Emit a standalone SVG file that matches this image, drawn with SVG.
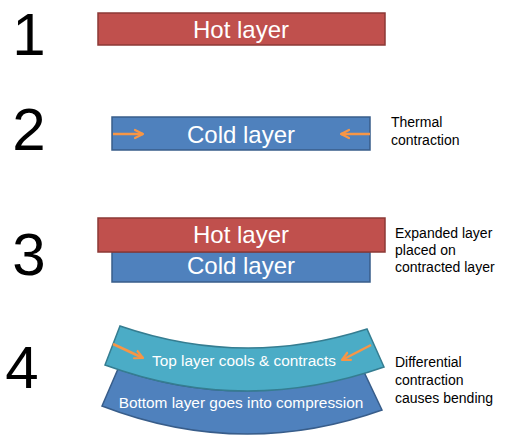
<svg xmlns="http://www.w3.org/2000/svg" width="507" height="442" viewBox="0 0 507 442">
<defs>
<style>
.num{font-family:"Liberation Sans",Arial,sans-serif;font-size:60px;fill:#000;text-anchor:middle}
.lbl{font-family:"Liberation Sans",Arial,sans-serif;font-size:24px;fill:#fff;text-anchor:middle}
.lbl2{font-family:"Liberation Sans",Arial,sans-serif;font-size:15.4px;fill:#fff;text-anchor:middle}
.note{font-family:"Liberation Sans",Arial,sans-serif;font-size:14px;fill:#000}
.hot{fill:#C0504D;stroke:#8C3836;stroke-width:1.5}
.cold{fill:#4F81BD;stroke:#385D8A;stroke-width:1.5}
.teal{fill:#4BACC6;stroke:#357D91;stroke-width:1.5}
.arr{fill:none;stroke:#F79646;stroke-width:2.5;marker-end:url(#ah)}
</style>
<marker id="ah" viewBox="0 0 10 10" refX="9" refY="5" markerWidth="4" markerHeight="4.5" orient="auto" markerUnits="strokeWidth">
<path d="M1,1 L9,5 L1,9" fill="none" stroke="#F79646" stroke-width="2.2" stroke-linecap="round" stroke-linejoin="round"/>
</marker>
</defs>
<rect width="507" height="442" fill="#fff"/>

<g id="step-numbers">
<text class="num" x="29" y="55">1</text>
<text class="num" x="29" y="150">2</text>
<text class="num" x="29" y="275">3</text>
<text class="num" x="22" y="388">4</text>
</g>

<g id="hot1">
<rect class="hot" x="98" y="13" width="287" height="32"/>
<text class="lbl" x="241" y="38">Hot layer</text>
</g>

<g id="cold2">
<rect class="cold" x="112" y="117" width="258" height="33"/>
<text class="lbl" x="241" y="143">Cold layer</text>
</g>
<g id="note2">
<text class="note" x="391" y="127">Thermal</text>
<text class="note" x="391" y="145">contraction</text>
</g>

<g id="cold3">
<rect class="cold" x="112" y="252" width="258" height="30"/>
<text class="lbl" x="241" y="274">Cold layer</text>
</g>
<g id="hot3">
<rect class="hot" x="98" y="218" width="287" height="34"/>
<text class="lbl" x="241" y="243">Hot layer</text>
</g>
<g id="note3">
<text class="note" x="395" y="238">Expanded layer</text>
<text class="note" x="395" y="255">placed on</text>
<text class="note" x="395" y="272">contracted layer</text>
</g>

<g id="bottom4">
<path class="cold" d="M118,369 Q240.5,412 363,370 L382,410 Q242,460 102,406 Z"/>
<text class="lbl2" x="241" y="408">Bottom layer goes into compression</text>
</g>
<g id="top4">
<path class="teal" d="M120,326 Q243.5,368.5 367,329 L384,367 Q244.5,416 105,365 Z"/>
<text class="lbl2" x="244" y="366">Top layer cools &amp; contracts</text>
</g>
<g id="note4">
<text class="note" x="395" y="367">Differential</text>
<text class="note" x="395" y="385">contraction</text>
<text class="note" x="395" y="403">causes bending</text>
</g>

<g id="connectors">
<path class="arr" d="M113,134 L143,134"/>
<path class="arr" d="M370,134 L341,134"/>
<path class="arr" d="M113,344 L143,358"/>
<path class="arr" d="M371,345 L342,360"/>
</g>
</svg>
